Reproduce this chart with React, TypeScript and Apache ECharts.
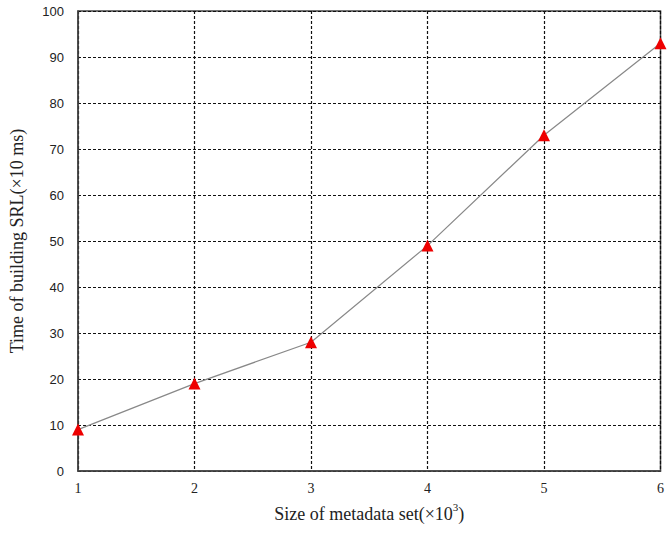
import React, { useEffect, useRef } from "react";
import * as echarts from "echarts";

const sizes = [1, 2, 3, 4, 5, 6];
const times = [9, 19, 28, 49, 73, 93];

export default function App() {
  const ref = useRef<HTMLDivElement>(null);
  useEffect(() => {
    const chart = echarts.init(ref.current!, null, { renderer: "svg" });
    chart.setOption({
      animation: false,
      backgroundColor: "#ffffff",
      grid: {
        left: 78,
        right: 5,
        top: 11,
        bottom: 62,
        show: true,
        borderColor: "#444",
        borderWidth: 1.5,
      },
      xAxis: {
        type: "value",
        min: 1,
        max: 6,
        interval: 1,
        name: "Size of metadata set(×10{sup|3})",
        nameLocation: "middle",
        nameGap: 30,
        nameTextStyle: {
          fontFamily: "Liberation Serif",
          fontSize: 18,
          color: "#222",
          rich: {
            sup: { fontFamily: "Liberation Serif", fontSize: 11, verticalAlign: "top", padding: [0, 0, 14, 0], color: "#222" },
          },
        },
        axisLine: { lineStyle: { color: "#444", width: 1.5 } },
        axisTick: { show: false },
        axisLabel: { fontFamily: "Liberation Serif", fontSize: 14, color: "#222", margin: 10 },
        splitLine: { show: true, lineStyle: { color: "#111", type: [3, 2], width: 1.2 } },
      },
      yAxis: {
        type: "value",
        min: 0,
        max: 100,
        interval: 10,
        name: "Time of building SRL(×10 ms)",
        nameLocation: "middle",
        nameGap: 52,
        nameTextStyle: { fontFamily: "Liberation Serif", fontSize: 18, color: "#222" },
        axisLine: { lineStyle: { color: "#444", width: 1.5 } },
        axisTick: { show: false },
        axisLabel: { fontFamily: "Liberation Sans", fontSize: 13, color: "#222", margin: 14 },
        splitLine: { show: true, lineStyle: { color: "#111", type: [3, 2], width: 1.2 } },
      },
      series: [
        {
          type: "line",
          data: sizes.map((s, i) => [s, times[i]]),
          symbol: "triangle",
          symbolSize: 12,
          itemStyle: { color: "#ee0000" },
          lineStyle: { color: "#888", width: 1.2 },
          clip: false,
        },
      ],
    });
    return () => chart.dispose();
  }, []);
  return <div ref={ref} style={{ width: 667, height: 533, position: "absolute", left: 0, top: 0 }} />;
}
